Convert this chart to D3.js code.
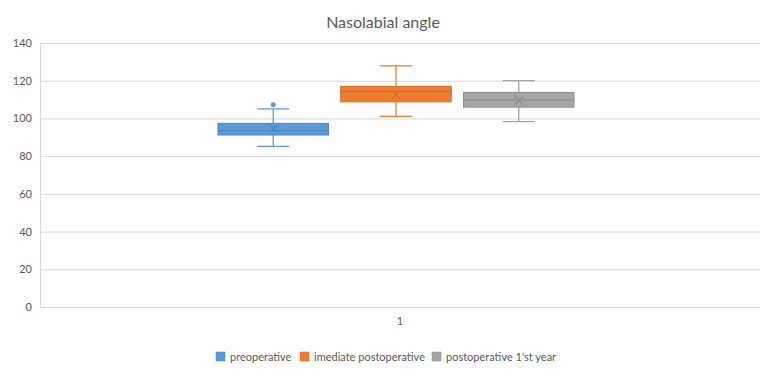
<!DOCTYPE html>
<html>
<head>
<meta charset="utf-8">
<script src="https://cdn.jsdelivr.net/npm/d3@7"></script>
<style>
body { margin: 0; background: #fff; }
text { font-family: Lato, "Open Sans", sans-serif; fill: #595959; }
</style>
</head>
<body>
<div id="chart"></div>
<script>
var series = ["preoperative", "imediate postoperative", "postoperative 1'st year"];
var categories = ["1"];
var whiskLow = [85.2, 101.1, 98.3];
var q1 = [91.2, 108.8, 106];
var median = [93.5, 114.3, 109.8];
var q3 = [97.4, 117, 113.8];
var whiskHigh = [105.1, 127.9, 120];
var means = [94.6, 112.5, 109.5];
var outliers = [[107.3], [], []];
var yTicks = [0, 20, 40, 60, 80, 100, 120, 140];

var colors = ["#5B9BD5", "#ED7D31", "#A5A5A5"];
var strokes = ["#4A86C0", "#D8691F", "#8C8C8C"];

var width = 775, height = 383;
var padding = {top: 43, right: 15, bottom: 76, left: 40};

var svg = d3.select("#chart").append("svg")
  .attr("width", width)
  .attr("height", height);

var x = d3.scaleBand()
  .domain(categories)
  .range([padding.left, width - padding.right]);

var xs = d3.scaleBand()
  .domain(series)
  .range([x("1") + 178, x("1") + x.bandwidth() - 186])
  .paddingInner(0.1);

var y = d3.scaleLinear()
  .domain([0, 140])
  .range([height - padding.bottom, padding.top]);

// gridlines
svg.append("g")
  .selectAll("line")
  .data(yTicks)
  .enter().append("line")
  .attr("x1", padding.left)
  .attr("x2", width - padding.right)
  .attr("y1", d => y(d) + 0.5)
  .attr("y2", d => y(d) + 0.5)
  .attr("stroke", "#d9d9d9")
  .attr("stroke-width", 1);

// y axis labels
var yAxis = d3.axisLeft(y).tickValues(yTicks).tickSize(0).tickPadding(8);
svg.append("g")
  .attr("transform", "translate(" + padding.left + ",0)")
  .call(yAxis)
  .call(g => g.select(".domain").remove())
  .selectAll("text")
  .style("font-size", "11px")
  .attr("fill", "#595959");

// left axis line
svg.append("line")
  .attr("x1", padding.left + 0.5).attr("x2", padding.left + 0.5)
  .attr("y1", y(140)).attr("y2", y(0))
  .attr("stroke", "#d9d9d9");

// x axis labels
var xAxis = d3.axisBottom(x).tickSize(0).tickPadding(10);
svg.append("g")
  .attr("transform", "translate(0," + y(0) + ")")
  .call(xAxis)
  .call(g => g.select(".domain").remove())
  .selectAll("text")
  .style("font-size", "11px")
  .attr("fill", "#595959");

// boxes
var boxes = svg.selectAll(".box")
  .data(series)
  .enter().append("g")
  .attr("class", "box");

boxes.each(function (s, i) {
  var g = d3.select(this);
  var x0 = xs(s), bw = xs.bandwidth(), cx = x0 + bw / 2;
  var cap = 16;
  // whisker lines
  g.append("line")
    .attr("x1", cx).attr("x2", cx)
    .attr("y1", y(whiskHigh[i])).attr("y2", y(q3[i]))
    .attr("stroke", colors[i]).attr("stroke-width", 1.3);
  g.append("line")
    .attr("x1", cx).attr("x2", cx)
    .attr("y1", y(q1[i])).attr("y2", y(whiskLow[i]))
    .attr("stroke", colors[i]).attr("stroke-width", 1.3);
  [whiskHigh[i], whiskLow[i]].forEach(function (v) {
    g.append("line")
      .attr("x1", cx - cap).attr("x2", cx + cap)
      .attr("y1", y(v)).attr("y2", y(v))
      .attr("stroke", colors[i]).attr("stroke-width", 1.3);
  });
  g.append("rect")
    .attr("x", x0)
    .attr("y", y(q3[i]))
    .attr("width", bw)
    .attr("height", y(q1[i]) - y(q3[i]))
    .attr("fill", colors[i])
    .attr("stroke", strokes[i])
    .attr("stroke-width", 1);
  g.append("line")
    .attr("x1", x0).attr("x2", x0 + bw)
    .attr("y1", y(median[i])).attr("y2", y(median[i]))
    .attr("stroke", strokes[i]).attr("stroke-width", 1.3);
  // mean marker
  var my = y(means[i]), m = 4.5;
  g.append("path")
    .attr("d", "M" + (cx - m) + "," + (my - m) + "L" + (cx + m) + "," + (my + m) +
      "M" + (cx - m) + "," + (my + m) + "L" + (cx + m) + "," + (my - m))
    .attr("stroke", strokes[i]).attr("stroke-width", 1.2).attr("fill", "none");
  outliers[i].forEach(function (v) {
    g.append("circle")
      .attr("cx", cx).attr("cy", y(v)).attr("r", 2.5)
      .attr("fill", colors[i]);
  });
});

// title
svg.append("text")
  .attr("x", 383)
  .attr("y", 28)
  .attr("text-anchor", "middle")
  .style("font-size", "16px")
  .text("Nasolabial angle");

// legend
var legendX = [216, 300, 432];
var legend = svg.selectAll(".legend")
  .data(series)
  .enter().append("g")
  .attr("class", "legend")
  .attr("transform", (d, i) => "translate(" + legendX[i] + ",352)");

legend.append("rect")
  .attr("width", 9).attr("height", 9)
  .attr("fill", (d, i) => colors[i])
  .attr("stroke", (d, i) => strokes[i]).attr("stroke-width", 0.5);

legend.append("text")
  .attr("x", 14)
  .attr("y", 8.5)
  .style("font-size", "11px")
  .text(d => d);
</script>
</body>
</html>
